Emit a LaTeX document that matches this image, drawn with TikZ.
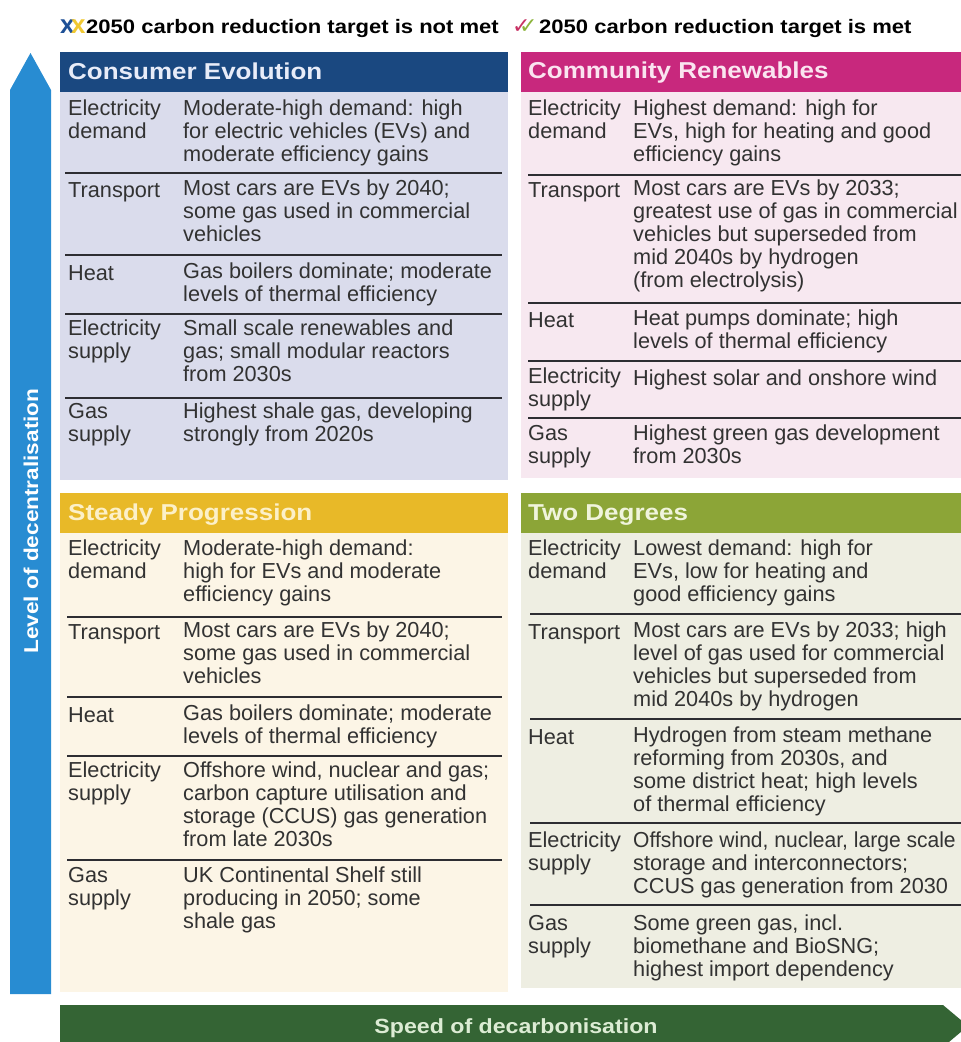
\documentclass[tikz,border=0pt]{standalone}
\usepackage{fontspec}
\setmainfont{Liberation Sans}
\newfontfamily\wb[FakeStretch=1.13]{Liberation Sans}
\newfontfamily\dejavu{DejaVu Sans}
\definecolor{ceHead}{RGB}{26,72,128}
\definecolor{ceBody}{RGB}{218,220,236}
\definecolor{crHead}{RGB}{200,40,125}
\definecolor{crBody}{RGB}{247,232,240}
\definecolor{spHead}{RGB}{232,185,40}
\definecolor{spBody}{RGB}{252,245,230}
\definecolor{tdHead}{RGB}{140,165,55}
\definecolor{tdBody}{RGB}{238,238,226}
\definecolor{blueArrow}{RGB}{40,140,210}
\definecolor{greenArrow}{RGB}{52,100,52}
\definecolor{bodytxt}{RGB}{50,50,50}
\definecolor{sepcol}{RGB}{45,45,50}
\definecolor{crossBlue}{RGB}{30,80,150}
\definecolor{crossYellow}{RGB}{240,200,50}
\definecolor{checkRed}{RGB}{200,50,100}
\definecolor{checkGreen}{RGB}{140,180,60}
\newcommand\bodyf{\fontsize{21.7}{23}\selectfont}
\newcommand\headf{\wb\bfseries\fontsize{23}{26}\selectfont}
\newcommand\legf{\wb\bfseries\fontsize{19.5}{22}\selectfont}
\begin{document}
\begin{tikzpicture}[x=1pt,y=-1pt,
  lbl/.style={anchor=north west, inner sep=0pt, align=left, text=bodytxt, font=\bodyf, execute at begin node={\rule{0pt}{17pt}}},
  hdr/.style={anchor=base west, inner sep=0pt, font=\headf},
  sepline/.style={draw=sepcol, line width=2pt},
  leg/.style={anchor=base west, inner sep=0pt, font=\legf, text=black},
  xmark/.style={anchor=base west, inner sep=0pt, font=\bfseries\fontsize{26}{28}\selectfont},
  tickmark/.style={anchor=base west, inner sep=0pt, font=\dejavu\bfseries\fontsize{22}{24}\selectfont}
]
\useasboundingbox (0,0) rectangle (961,1042);
\clip (0,0) rectangle (961,1042);
\fill[white] (0,0) rectangle (961,1042);

% ---------- legend ----------
\node[xmark, text=crossBlue] (xb) at (60,33) {x};
\node[xmark, text=crossYellow] (xy) at (71,33) {x};
\node[leg] (legL) at (86,33) {2050 carbon reduction target is not met};
\node[tickmark, text=checkRed] (cr) at (512,33) {✓};
\node[tickmark, text=checkGreen] (cg) at (519,33) {✓};
\node[leg] (legR) at (539,33) {2050 carbon reduction target is met};

% ---------- vertical arrow ----------
\fill[blueArrow] (10,994) -- (10,90) -- (30.5,53) -- (51,90) -- (51,994) -- cycle;
\node[rotate=90, inner sep=0pt, font=\wb\bfseries\fontsize{20}{22}\selectfont, text=white] (vtext) at (31,521) {Level of decentralisation};

% ---------- horizontal arrow ----------
\fill[greenArrow] (60,1005) -- (943,1005) -- (968,1026) -- (943,1047) -- (60,1047) -- cycle;
\node[anchor=base, inner sep=0pt, font=\wb\bfseries\fontsize{20.5}{22}\selectfont, text={rgb,255:red,220;green,236;blue,212}] (htext) at (516,1033) {Speed of decarbonisation};

% ---------- Consumer Evolution ----------
\fill[ceHead] (60,52) rectangle (508,92);
\fill[ceBody] (60,92) rectangle (508,480);
\node[hdr, text={rgb,255:red,232;green,236;blue,248}] (ceH) at (68,79) {Consumer Evolution};
\node[lbl] (ceL1) at (68,100) {Electricity\\demand};
\node[lbl] (ceD1) at (183,100) {Moderate-high demand: high\\for electric vehicles (EVs) and\\moderate efficiency gains};
\draw[sepline] (65,173) -- (502,173);
\node[lbl] (ceL2) at (68,180) {Transport};
\node[lbl] (ceD2) at (183,180) {Most cars are EVs by 2040;\\some gas used in commercial\\vehicles};
\draw[sepline] (65,255) -- (502,255);
\node[lbl] (ceL3) at (68,263) {Heat};
\node[lbl] (ceD3) at (183,263) {Gas boilers dominate; moderate\\levels of thermal efficiency};
\draw[sepline] (65,314) -- (502,314);
\node[lbl] (ceL4) at (68,320) {Electricity\\supply};
\node[lbl] (ceD4) at (183,320) {Small scale renewables and\\gas; small modular reactors\\from 2030s};
\draw[sepline] (65,398) -- (502,398);
\node[lbl] (ceL5) at (68,403) {Gas\\supply};
\node[lbl] (ceD5) at (183,403) {Highest shale gas, developing\\strongly from 2020s};

% ---------- Community Renewables ----------
\fill[crHead] (521,52) rectangle (961,92);
\fill[crBody] (521,92) rectangle (961,478);
\node[hdr, text={rgb,255:red,250;green,228;blue,240}] (crH) at (528,78) {Community Renewables};
\node[lbl] (crL1) at (528,100) {Electricity\\demand};
\node[lbl] (crD1) at (633,100) {Highest demand: high for\\EVs, high for heating and good\\efficiency gains};
\draw[sepline] (528,175) -- (961,175);
\node[lbl] (crL2) at (528,180) {Transport};
\node[lbl] (crD2) at (633,180) {Most cars are EVs by 2033;\\greatest use of gas in commercial\\vehicles but superseded from\\mid 2040s by hydrogen\\(from electrolysis)};
\draw[sepline] (528,303) -- (961,303);
\node[lbl] (crL3) at (528,310) {Heat};
\node[lbl] (crD3) at (633,310) {Heat pumps dominate; high\\levels of thermal efficiency};
\draw[sepline] (528,361) -- (961,361);
\node[lbl] (crL4) at (528,368) {Electricity\\supply};
\node[lbl] (crD4) at (633,368) {Highest solar and onshore wind};
\draw[sepline] (528,418) -- (961,418);
\node[lbl] (crL5) at (528,425) {Gas\\supply};
\node[lbl] (crD5) at (633,425) {Highest green gas development\\from 2030s};

% ---------- Steady Progression ----------
\fill[spHead] (60,493) rectangle (508,533);
\fill[spBody] (60,533) rectangle (508,992);
\node[hdr, text={rgb,255:red,252;green,240;blue,200}] (spH) at (68,520) {Steady Progression};
\node[lbl] (spL1) at (68,540) {Electricity\\demand};
\node[lbl] (spD1) at (183,540) {Moderate-high demand:\\high for EVs and moderate\\efficiency gains};
\draw[sepline] (67,617) -- (502,617);
\node[lbl] (spL2) at (68,622) {Transport};
\node[lbl] (spD2) at (183,622) {Most cars are EVs by 2040;\\some gas used in commercial\\vehicles};
\draw[sepline] (67,697) -- (502,697);
\node[lbl] (spL3) at (68,705) {Heat};
\node[lbl] (spD3) at (183,705) {Gas boilers dominate; moderate\\levels of thermal efficiency};
\draw[sepline] (67,756) -- (502,756);
\node[lbl] (spL4) at (68,762) {Electricity\\supply};
\node[lbl] (spD4) at (183,762) {Offshore wind, nuclear and gas;\\carbon capture utilisation and\\storage (CCUS) gas generation\\from late 2030s};
\draw[sepline] (67,860) -- (502,860);
\node[lbl] (spL5) at (68,867) {Gas\\supply};
\node[lbl] (spD5) at (183,867) {UK Continental Shelf still\\producing in 2050; some\\shale gas};

% ---------- Two Degrees ----------
\fill[tdHead] (521,493) rectangle (961,533);
\fill[tdBody] (521,533) rectangle (961,988);
\node[hdr, text={rgb,255:red,240;green,244;blue,220}] (tdH) at (528,520) {Two Degrees};
\node[lbl] (tdL1) at (528,540) {Electricity\\demand};
\node[lbl] (tdD1) at (633,540) {Lowest demand: high for\\EVs, low for heating and\\good efficiency gains};
\draw[sepline] (530,614) -- (961,614);
\node[lbl] (tdL2) at (528,622) {Transport};
\node[lbl] (tdD2) at (633,622) {Most cars are EVs by 2033; high\\level of gas used for commercial\\vehicles but superseded from\\mid 2040s by hydrogen};
\draw[sepline] (530,719) -- (961,719);
\node[lbl] (tdL3) at (528,727) {Heat};
\node[lbl] (tdD3) at (633,727) {Hydrogen from steam methane\\reforming from 2030s, and\\some district heat; high levels\\of thermal efficiency};
\draw[sepline] (530,823) -- (961,823);
\node[lbl] (tdL4) at (528,832) {Electricity\\supply};
\node[lbl] (tdD4) at (633,832) {\scalebox{0.97}[1]{Offshore wind, nuclear, large scale}\\storage and interconnectors;\\CCUS gas generation from 2030};
\draw[sepline] (530,905) -- (961,905);
\node[lbl] (tdL5) at (528,915) {Gas\\supply};
\node[lbl] (tdD5) at (633,915) {Some green gas, incl.\\biomethane and BioSNG;\\highest import dependency};
\end{tikzpicture}
\end{document}
